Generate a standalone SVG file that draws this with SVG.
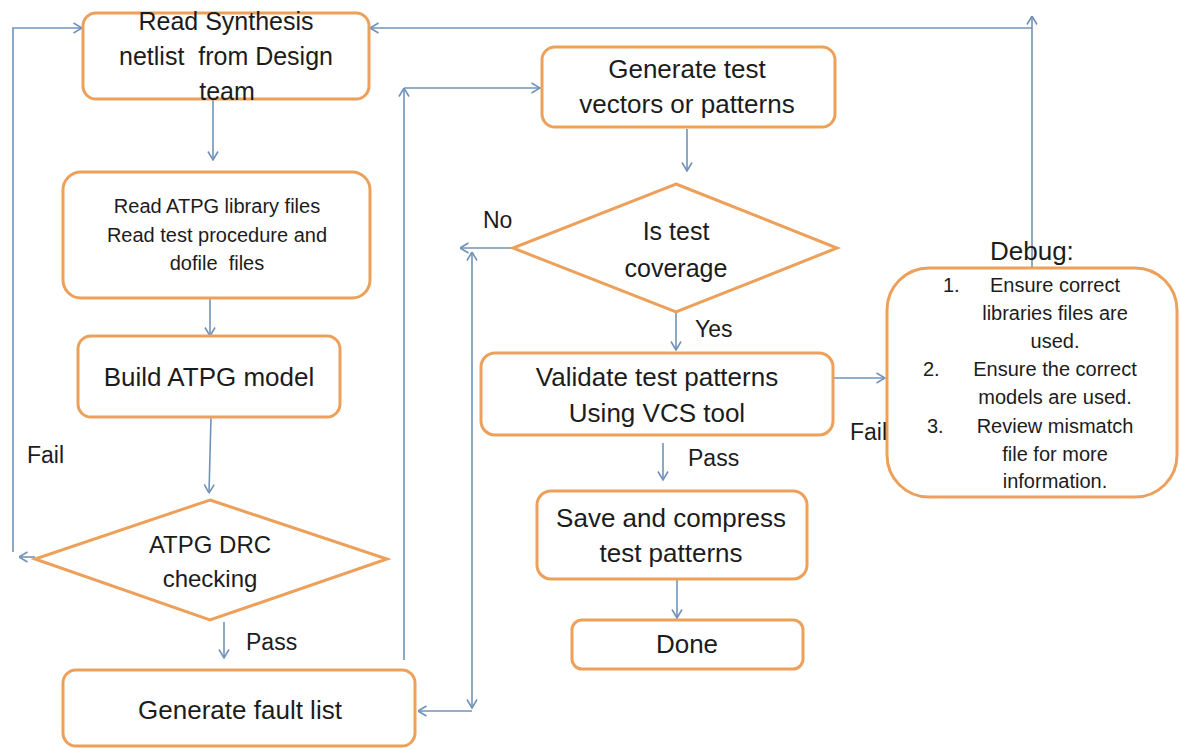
<svg xmlns="http://www.w3.org/2000/svg" width="1180" height="749" viewBox="0 0 1180 749">
<defs>
<style>
.box{fill:#fff;stroke:#EDA05A;stroke-width:3}
.t{font-family:"Liberation Sans",Arial,sans-serif;fill:#1c1c1c;text-anchor:middle}
.l{font-family:"Liberation Sans",Arial,sans-serif;fill:#1c1c1c}
.c{fill:none;stroke:#7192BA;stroke-width:1.6}
.pre{white-space:pre}
</style>
<marker id="ah" viewBox="0 0 10 12" refX="9.5" refY="6" markerWidth="10" markerHeight="12" markerUnits="userSpaceOnUse" orient="auto-start-reverse">
<path d="M1,1 L9.5,6 L1,11" fill="none" stroke="#7192BA" stroke-width="1.6"/>
</marker>
</defs>
<rect width="1180" height="749" fill="#fff"/>

<g id="connectors">
<path class="c" d="M213,100 V160" marker-end="url(#ah)"/>
<path class="c" d="M210,298 V336" marker-end="url(#ah)"/>
<path class="c" d="M211,417 L209,493" marker-end="url(#ah)"/>
<path class="c" d="M35,557 H19" marker-end="url(#ah)"/>
<path class="c" d="M13,552 V28 H82" marker-end="url(#ah)"/>
<path class="c" d="M224,622 V658" marker-end="url(#ah)"/>
<path class="c" d="M404,660 V88" marker-end="url(#ah)"/>
<path class="c" d="M404,88 H540" marker-end="url(#ah)"/>
<path class="c" d="M687,129 V171" marker-end="url(#ah)"/>
<path class="c" d="M513,248 H460" marker-end="url(#ah)"/>
<path class="c" d="M472,708 V252" marker-start="url(#ah)" marker-end="url(#ah)"/>
<path class="c" d="M472,711 H418" marker-end="url(#ah)"/>
<path class="c" d="M676,312 V350" marker-end="url(#ah)"/>
<path class="c" d="M833,378 H885" marker-end="url(#ah)"/>
<path class="c" d="M663,443 V480" marker-end="url(#ah)"/>
<path class="c" d="M677,579 V618" marker-end="url(#ah)"/>
<path class="c" d="M1032,267 V16" marker-end="url(#ah)"/>
<path class="c" d="M1032,28 H370" marker-end="url(#ah)"/>
</g>

<g id="n1">
<rect class="box" x="83" y="13" width="286" height="86" rx="13"/>
<text class="t pre" font-size="25"><tspan x="226" y="30">Read Synthesis</tspan><tspan x="226" y="65">netlist  from Design</tspan><tspan x="227" y="100">team</tspan></text>
</g>
<g id="n2">
<rect class="box" x="63" y="172" width="307" height="126" rx="18"/>
<text class="t pre" font-size="20"><tspan x="217" y="213">Read ATPG library files</tspan><tspan x="217" y="242">Read test procedure and</tspan><tspan x="217" y="270">dofile  files</tspan></text>
</g>
<g id="n3">
<rect class="box" x="78" y="336" width="262" height="81" rx="13"/>
<text class="t" font-size="26" x="209" y="386">Build ATPG model</text>
</g>
<g id="n4">
<polygon class="box" points="210,500 387,559 210,620 35,559"/>
<text class="t" font-size="24"><tspan x="210" y="553">ATPG DRC</tspan><tspan x="210" y="587">checking</tspan></text>
</g>
<g id="n5">
<rect class="box" x="63" y="670" width="352" height="76" rx="13"/>
<text class="t" font-size="26" x="240" y="719">Generate fault list</text>
</g>
<g id="n6">
<rect class="box" x="542" y="47" width="293" height="80" rx="13"/>
<text class="t" font-size="26"><tspan x="687" y="78">Generate test</tspan><tspan x="687" y="113">vectors or patterns</tspan></text>
</g>
<g id="n7">
<polygon class="box" points="676,184 837,248 676,312 513,248"/>
<text class="t" font-size="25"><tspan x="676" y="240">Is test</tspan><tspan x="676" y="277">coverage</tspan></text>
</g>
<g id="n8">
<rect class="box" x="481" y="353" width="352" height="82" rx="14"/>
<text class="t" font-size="26"><tspan x="657" y="386">Validate test patterns</tspan><tspan x="657" y="422">Using VCS tool</tspan></text>
</g>
<g id="n9">
<rect class="box" x="537" y="491" width="270" height="88" rx="14"/>
<text class="t" font-size="26"><tspan x="671" y="527">Save and compress</tspan><tspan x="671" y="562">test patterns</tspan></text>
</g>
<g id="n10">
<rect class="box" x="572" y="620" width="231" height="49" rx="10"/>
<text class="t" font-size="26" x="687" y="653">Done</text>
</g>
<g id="n11">
<rect class="box" x="887" y="268" width="290" height="229" rx="42"/>
<text class="l" font-size="26" x="990" y="260">Debug:</text>
<text class="l" font-size="20"><tspan x="943" y="292">1.</tspan><tspan x="923" y="376">2.</tspan><tspan x="927" y="433">3.</tspan></text>
<text class="t" font-size="20"><tspan x="1055" y="292">Ensure correct</tspan><tspan x="1055" y="320">libraries files are</tspan><tspan x="1055" y="348">used.</tspan><tspan x="1055" y="376">Ensure the correct</tspan><tspan x="1055" y="404">models are used.</tspan><tspan x="1055" y="433">Review mismatch</tspan><tspan x="1055" y="461">file for more</tspan><tspan x="1055" y="488">information.</tspan></text>
</g>

<g id="labels">
<text class="l" font-size="23" x="27" y="463">Fail</text>
<text class="l" font-size="23" x="246" y="650">Pass</text>
<text class="l" font-size="23" x="483" y="228">No</text>
<text class="l" font-size="23" x="695" y="337">Yes</text>
<text class="l" font-size="23" x="688" y="466">Pass</text>
<text class="l" font-size="23" x="850" y="440">Fail</text>
</g>
</svg>
